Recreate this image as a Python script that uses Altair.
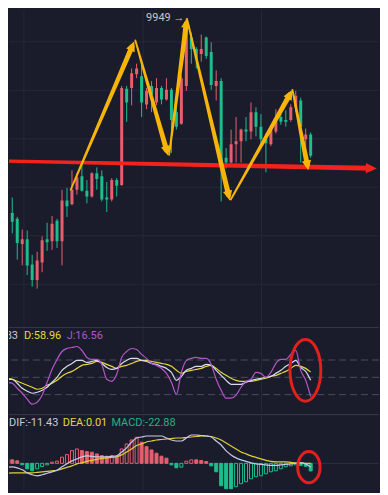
import math
import altair as alt
import pandas as pd

# ---------------- data ----------------
opens = [9511, 9561, 9547, 9535, 9483, 9493, 9441, 9409, 9445, 9493,
         9489, 9531, 9489, 9573, 9565, 9595, 9623, 9593, 9581, 9629,
         9623, 9579, 9575, 9615, 9605, 9803, 9805, 9833, 9829, 9771,
         9809, 9775, 9805, 9781, 9801, 9755, 9731, 9809, 9909, 9885,
         9875, 9909, 9879, 9809, 9819, 9661, 9651, 9689, 9695, 9719,
         9715, 9755, 9725, 9699, 9689, 9715, 9745, 9739, 9739, 9765,
         9779, 9699, 9709]
closes = [9561, 9545, 9529, 9485, 9493, 9439, 9409, 9449, 9491, 9487,
          9525, 9489, 9573, 9561, 9595, 9621, 9593, 9581, 9629, 9617,
          9575, 9575, 9615, 9603, 9805, 9775, 9835, 9845, 9775, 9799,
          9791, 9805, 9781, 9801, 9739, 9725, 9825, 9925, 9885, 9865,
          9885, 9871, 9811, 9819, 9651, 9651, 9689, 9695, 9719, 9715,
          9755, 9725, 9699, 9691, 9719, 9735, 9735, 9735, 9765, 9789,
          9725, 9709, 9665]
highs = [9587, 9609, 9579, 9539, 9513, 9511, 9461, 9467, 9499, 9527,
         9541, 9535, 9595, 9599, 9635, 9629, 9651, 9615, 9631, 9641,
         9635, 9611, 9619, 9619, 9809, 9809, 9845, 9855, 9855, 9805,
         9819, 9825, 9809, 9825, 9805, 9765, 9831, 9949, 9919, 9889,
         9915, 9911, 9899, 9841, 9825, 9681, 9719, 9745, 9721, 9745,
         9775, 9765, 9751, 9711, 9721, 9761, 9765, 9759, 9771, 9799,
         9785, 9721, 9713]
lows = [9509, 9521, 9505, 9451, 9439, 9419, 9395, 9391, 9425, 9469,
        9471, 9475, 9439, 9539, 9563, 9585, 9591, 9567, 9579, 9595,
        9571, 9549, 9571, 9581, 9603, 9735, 9769, 9825, 9745, 9761,
        9755, 9769, 9771, 9779, 9671, 9719, 9729, 9799, 9855, 9845,
        9859, 9865, 9801, 9779, 9571, 9639, 9649, 9651, 9651, 9695,
        9699, 9705, 9691, 9631, 9685, 9711, 9729, 9725, 9735, 9755,
        9651, 9679, 9661]

k_vals = [48.3, 46.6, 46.6, 39.7, 31.0, 25.9, 22.4, 24.1, 27.6, 32.8,
          41.4, 50.0, 62.1, 69.0, 74.1, 79.3, 79.3, 75.9, 77.6, 79.3,
          74.1, 67.2, 63.8, 65.5, 74.1, 79.3, 82.8, 82.8, 79.3, 77.6,
          74.1, 72.4, 69.0, 65.5, 58.6, 44.8, 51.7, 62.1, 65.5, 69.0,
          69.0, 72.4, 70.7, 62.1, 53.4, 44.8, 37.9, 37.9, 37.9, 41.4,
          44.8, 46.6, 48.3, 50.0, 51.7, 56.9, 62.1, 69.0, 74.1, 79.3,
          67.2, 60.3, 44.83]
d_vals = [50.0, 48.3, 46.6, 43.1, 39.7, 36.2, 32.8, 29.3, 31.0, 36.2,
          39.7, 44.8, 51.7, 56.9, 60.3, 65.5, 70.7, 72.4, 74.1, 77.6,
          75.9, 72.4, 69.0, 65.5, 69.0, 70.7, 74.1, 77.6, 79.3, 79.3,
          77.6, 75.9, 74.1, 72.4, 69.0, 62.1, 56.9, 60.3, 62.1, 63.8,
          65.5, 69.0, 70.7, 65.5, 58.6, 53.4, 48.3, 44.8, 43.1, 43.1,
          43.1, 44.8, 46.6, 48.3, 51.7, 53.4, 56.9, 60.3, 65.5, 70.7,
          69.0, 65.5, 58.96]
j_vals = [43.1, 41.4, 39.7, 31.0, 22.4, 12.1, 3.4, 6.9, 19.0, 41.4,
          63.8, 81.0, 94.8, 100.0, 101.7, 103.4, 96.6, 84.5, 81.0, 81.0,
          72.4, 46.6, 43.1, 55.2, 84.5, 94.8, 100.0, 98.3, 89.7, 82.8,
          74.1, 70.7, 65.5, 56.9, 41.4, 20.7, 58.6, 79.3, 82.8, 84.5,
          82.8, 82.8, 72.4, 46.6, 27.6, 13.8, 13.8, 19.0, 32.8, 43.1,
          46.6, 58.6, 56.9, 50.0, 58.6, 74.1, 81.0, 81.0, 89.7, 96.6,
          62.1, 44.8, 16.56]

macd_hist = [13.5, 13.5, 10.5, 7.5, -4.5, -16.5, -22.5, -16.5, -9.6, -4.5,
             3.6, 6.6, 18.6, 26.4, 38.4, 43.5, 38.4, 35.4, 33.6, 28.5,
             23.4, 21.6, 23.4, 18.6, 43.5, 58.5, 70.5, 78.6, 63.6, 50.4,
             40.5, 30.6, 21.6, 15.6, -4.5, -13.5, -11.4, 6.6, 10.5, 10.5,
             8.4, 5.4, -7.5, -25.5, -67.5, -76.5, -76.5, -70.5, -61.5, -55.5,
             -46.5, -40.5, -37.5, -31.5, -25.5, -22.5, -16.5, -10.5, -7.5, -4.5,
             -6.0, -9.0, -22.88]
dif_vals = [-13.5, -12, -10.5, -13.5, -19.5, -28.5, -34.5, -37.5, -34.5, -30,
            -25.5, -21, -10.5, -1.5, 7.5, 13.5, 19.5, 22.5, 21, 19.5,
            19.5, 19.5, 21, 22.5, 34.5, 46.5, 64.5, 76.5, 79.5, 82.5,
            82.5, 82.5, 82.5, 76.5, 70.5, 67.5, 67.5, 76.5, 85.5, 85.5,
            84, 82.5, 79.5, 67.5, 55.5, 37.5, 25.5, 16.5, 10.5, 6,
            1.5, -1.5, -3, -4.5, -6, -6, -4.5, -3, -1.5, 0,
            1.5, -1.5, -11.43]
dea_vals = [-31.5, -30, -28.5, -28.5, -28.5, -28.5, -28.5, -27, -25.5, -24,
            -22.5, -21, -16.5, -12, -7.5, -1.5, 1.5, 6, 9, 12,
            15, 16.5, 18, 19.5, 25.5, 34.5, 43.5, 54, 58.5, 64.5,
            67.5, 70.5, 72, 73.5, 75, 76.5, 76.5, 78, 79.5, 81,
            82.5, 82.5, 81, 76.5, 70.5, 61.5, 52.5, 43.5, 34.5, 28.5,
            22.5, 18, 13.5, 9, 6, 4.5, 4.5, 4.5, 3, 1.5,
            1.5, 0, 0.01]

# hand-drawn zigzag arrows (candle index, price)
arrow_i0 = [13.74, 26.74, 33.54, 37.14, 45.94, 58.34]
arrow_p0 = [9595, 9903, 9667, 9947, 9575, 9801]
arrow_i1 = [26.54, 33.34, 37.14, 45.74, 58.34, 61.54]
arrow_p1 = [9901, 9665, 9949, 9573, 9801, 9635]
# red support arrow
red_i = [1.34, 75.3]
red_p = [9654, 9639]
# circled areas
kdj_circle = (60.94, 62.1)
macd_circle = (61.64, -11.4)
kdj_levels = [20, 50, 80]
x_grid = [4.34, 28.3, 52.1]
price_grid = [9400, 9500, 9600, 9700, 9800, 9900]

# ---------------- styling / layout ----------------
BG = "#1a1c2c"
GRID = "#242838"
UP = "#e55f6d"
DOWN = "#1dbd8c"
YEL = "#f7b50a"
RED = "#f2231c"
FONT = "Roboto"

W = 372
H_MAIN, H_KDJ, H_MACD = 315, 87, 77
X0, X1 = 1.34, 75.74
P0, P1 = 9319, 9965
K0, K1 = -10.34, 139.66
M0, M1 = -82.5, 148.5

xs = alt.Scale(domain=[X0, X1], nice=False, zero=False, padding=0)
ps = alt.Scale(domain=[P0, P1], nice=False, zero=False, padding=0)
ks = alt.Scale(domain=[K0, K1], nice=False, zero=False, padding=0)
ms = alt.Scale(domain=[M0, M1], nice=False, zero=False, padding=0)


def X(f):
    return alt.X(f"{f}:Q", scale=xs, axis=None)


def YP(f):
    return alt.Y(f"{f}:Q", scale=ps, axis=None)


def YK(f):
    return alt.Y(f"{f}:Q", scale=ks, axis=None)


def YM(f):
    return alt.Y(f"{f}:Q", scale=ms, axis=None)


def pxx(i):
    return (i - X0) / (X1 - X0) * W


def pyy(p):
    return (P1 - p) / (P1 - P0) * H_MAIN


def ix(x):
    return X0 + x / W * (X1 - X0)


def ip(y):
    return P1 - y / H_MAIN * (P1 - P0)


def ellipse_path(rx, ry):
    kx, ky = rx * 0.5523, ry * 0.5523
    return (f"M0,{-ry}C{kx},{-ry} {rx},{-ky} {rx},0C{rx},{ky} {kx},{ry} 0,{ry}"
            f"C{-kx},{ry} {-rx},{ky} {-rx},0C{-rx},{-ky} {-kx},{-ry} 0,{-ry}Z")


HEAD = "M0,0L-0.85,1.8L0.85,1.8Z"

N = len(opens)
idx = list(range(N))
xg = pd.DataFrame({"gx": x_grid})


def vgrid():
    return alt.Chart(xg).mark_rule(color=GRID, strokeWidth=1).encode(x=X("gx"))


# ---------------- main candlestick panel ----------------
cdf = pd.DataFrame({"i": idx, "o": opens, "c": closes, "h": highs, "l": lows})
cdf["col"] = [UP if c >= o else DOWN for o, c in zip(opens, closes)]

hgrid = alt.Chart(pd.DataFrame({"gp": price_grid})).mark_rule(
    color=GRID, strokeWidth=1).encode(y=YP("gp"))
wicks = alt.Chart(cdf).mark_rule(strokeWidth=1, clip=True).encode(
    x=X("i"), y=YP("l"), y2=alt.Y2("h"), color=alt.Color("col:N", scale=None))
bodies = alt.Chart(cdf).mark_bar(size=3, clip=True).encode(
    x=X("i"), y=YP("o"), y2=alt.Y2("c"), color=alt.Color("col:N", scale=None))


def build_arrows(i0s, p0s, i1s, p1s, w0, w1, back):
    trail_rows, head_rows = [], []
    for s, (a, b, c, d) in enumerate(zip(i0s, p0s, i1s, p1s)):
        sx, sy, ex, ey = pxx(a), pyy(b), pxx(c), pyy(d)
        dx, dy = ex - sx, ey - sy
        L = math.hypot(dx, dy)
        ux, uy = dx / L, dy / L
        tx, ty = ex - ux * back, ey - uy * back
        trail_rows.append({"seg": s, "ord": 0, "ti": a, "tp": b, "w": w0})
        trail_rows.append({"seg": s, "ord": 1, "ti": ix(tx), "tp": ip(ty), "w": w1})
        ang = math.degrees(math.atan2(dx, -dy)) % 360
        head_rows.append({"hi": c, "hp": d, "ang": ang})
    return pd.DataFrame(trail_rows), pd.DataFrame(head_rows)


ytr, yhd = build_arrows(arrow_i0, arrow_p0, arrow_i1, arrow_p1, 1.8, 5.2, 6)
rtr, rhd = build_arrows(red_i[:1], red_p[:1], red_i[1:], red_p[1:], 3.2, 5.0, 6)

red_trail = alt.Chart(rtr).mark_trail(color=RED, clip=True).encode(
    x=X("ti"), y=YP("tp"), size=alt.Size("w:Q", scale=None), detail="seg:N",
    order="ord:Q")
red_head = alt.Chart(rhd).mark_point(shape=HEAD, size=150, filled=True, fill=RED,
                                     strokeWidth=0, opacity=1).encode(
    x=X("hi"), y=YP("hp"), angle=alt.Angle("ang:Q", scale=None))
y_trail = alt.Chart(ytr).mark_trail(color=YEL, clip=True).encode(
    x=X("ti"), y=YP("tp"), size=alt.Size("w:Q", scale=None), detail="seg:N",
    order="ord:Q")
y_head = alt.Chart(yhd).mark_point(shape=HEAD, size=121, filled=True, fill=YEL,
                                   strokeWidth=0, opacity=1).encode(
    x=X("hi"), y=YP("hp"), angle=alt.Angle("ang:Q", scale=None))

top_i = max(idx, key=lambda n: highs[n])
ldf = pd.DataFrame({"li": [top_i], "lp": [highs[top_i]], "t": [f"{highs[top_i]} →"]})
top_label = alt.Chart(ldf).mark_text(align="right", baseline="middle", dx=-2,
                                     fontSize=11, font=FONT, color="#c3c6d2").encode(
    x=X("li"), y=YP("lp"), text="t:N")

main = alt.layer(vgrid(), hgrid, wicks, bodies, red_trail, red_head, y_trail, y_head,
                 top_label).properties(width=W, height=H_MAIN)

# ---------------- KDJ panel ----------------
one = pd.DataFrame({"a": [0]})


def label(txt, x, y, color, align="left"):
    return alt.Chart(one).mark_text(text=txt, align=align, baseline="middle",
                                    fontSize=11, font=FONT, color=color, clip=True).encode(
        x=alt.value(x), y=alt.value(y))


kdf = pd.DataFrame({"i": idx, "k": k_vals, "d": d_vals, "j": j_vals})
lev = pd.DataFrame({"lv": kdj_levels})
kdj_sep = alt.Chart(one).mark_rule(color="#353948", strokeWidth=1).encode(
    x=alt.value(0), x2=alt.value(W), y=alt.value(2))
kdj_dash = alt.Chart(lev).mark_rule(color="#4a4e60", strokeDash=[7, 4], strokeWidth=1).encode(
    y=YK("lv"))
d_line = alt.Chart(kdf).mark_line(color="#e4d437", strokeWidth=1.2, interpolate="monotone",
                                  clip=True).encode(x=X("i"), y=YK("d"))
k_line = alt.Chart(kdf).mark_line(color="#d9dbf0", strokeWidth=1.2, interpolate="monotone",
                                  clip=True).encode(x=X("i"), y=YK("k"))
j_line = alt.Chart(kdf).mark_line(color="#b356c6", strokeWidth=1.2, interpolate="monotone",
                                  clip=True).encode(x=X("i"), y=YK("j"))
kc = pd.DataFrame({"ci": [kdj_circle[0]], "cv": [kdj_circle[1]]})
kdj_ell = alt.Chart(kc).mark_point(shape=ellipse_path(0.5, 1.0), size=62 * 62, filled=False,
                                   stroke="#e3201b", strokeWidth=3, opacity=1).encode(
    x=X("ci"), y=YK("cv"))
kdj = alt.layer(
    vgrid(), kdj_sep, kdj_dash, d_line, k_line, j_line, kdj_ell,
    label(f"K:{k_vals[-1]:.2f}", 9, 10, "#c8cad8", "right"),
    label(f"D:{d_vals[-1]:.2f}", 15, 10, "#e6d83c"),
    label(f"J:{j_vals[-1]:.2f}", 58, 10, "#b159c5"),
).properties(width=W, height=H_KDJ)

# ---------------- MACD panel ----------------
fills, cols = [], []
for n, v in enumerate(macd_hist):
    c = UP if v >= 0 else DOWN
    cols.append(c)
    rising = n > 0 and v > macd_hist[n - 1]
    fills.append(BG if rising else c)
mdf = pd.DataFrame({"i": idx, "h": macd_hist, "z": [0] * N, "col": cols, "fil": fills,
                    "dif": dif_vals, "dea": dea_vals})
macd_sep = alt.Chart(one).mark_rule(color="#353948", strokeWidth=1).encode(
    x=alt.value(0), x2=alt.value(W), y=alt.value(0.5))
zero_line = alt.Chart(pd.DataFrame({"zv": [0]})).mark_rule(
    color="#2c3042", strokeWidth=1).encode(y=YM("zv"))
bars = alt.Chart(mdf).mark_bar(size=3, strokeWidth=1, clip=True).encode(
    x=X("i"), y=YM("h"), y2=alt.Y2("z"),
    fill=alt.Fill("fil:N", scale=None), stroke=alt.Stroke("col:N", scale=None))
dea_line = alt.Chart(mdf).mark_line(color="#e0cf33", strokeWidth=1.2, interpolate="monotone",
                                    clip=True).encode(x=X("i"), y=YM("dea"))
dif_line = alt.Chart(mdf).mark_line(color="#c5c9e8", strokeWidth=1.2, interpolate="monotone",
                                    clip=True).encode(x=X("i"), y=YM("dif"))
mc = pd.DataFrame({"ci": [macd_circle[0]], "cv": [macd_circle[1]]})
macd_ell = alt.Chart(mc).mark_point(shape=ellipse_path(0.714, 1.0), size=31.5 * 31.5,
                                    filled=False, stroke="#e3201b", strokeWidth=3,
                                    opacity=1).encode(x=X("ci"), y=YM("cv"))
macd = alt.layer(
    vgrid(), macd_sep, zero_line, bars, dea_line, dif_line, macd_ell,
    label(f"DIF:{dif_vals[-1]:.2f}", 0, 9, "#c8cad8"),
    label(f"DEA:{dea_vals[-1]:.2f}", 54, 9, "#e6d83c"),
    label(f"MACD:{macd_hist[-1]:.2f}", 103, 9, "#20b384"),
).properties(width=W, height=H_MACD)

chart = alt.vconcat(main, kdj, macd, spacing=0).properties(
    padding=0, background=BG
).configure_view(stroke=None).configure_concat(spacing=0)

chart.save("out.html", embed_options={"renderer": "svg", "actions": False})
